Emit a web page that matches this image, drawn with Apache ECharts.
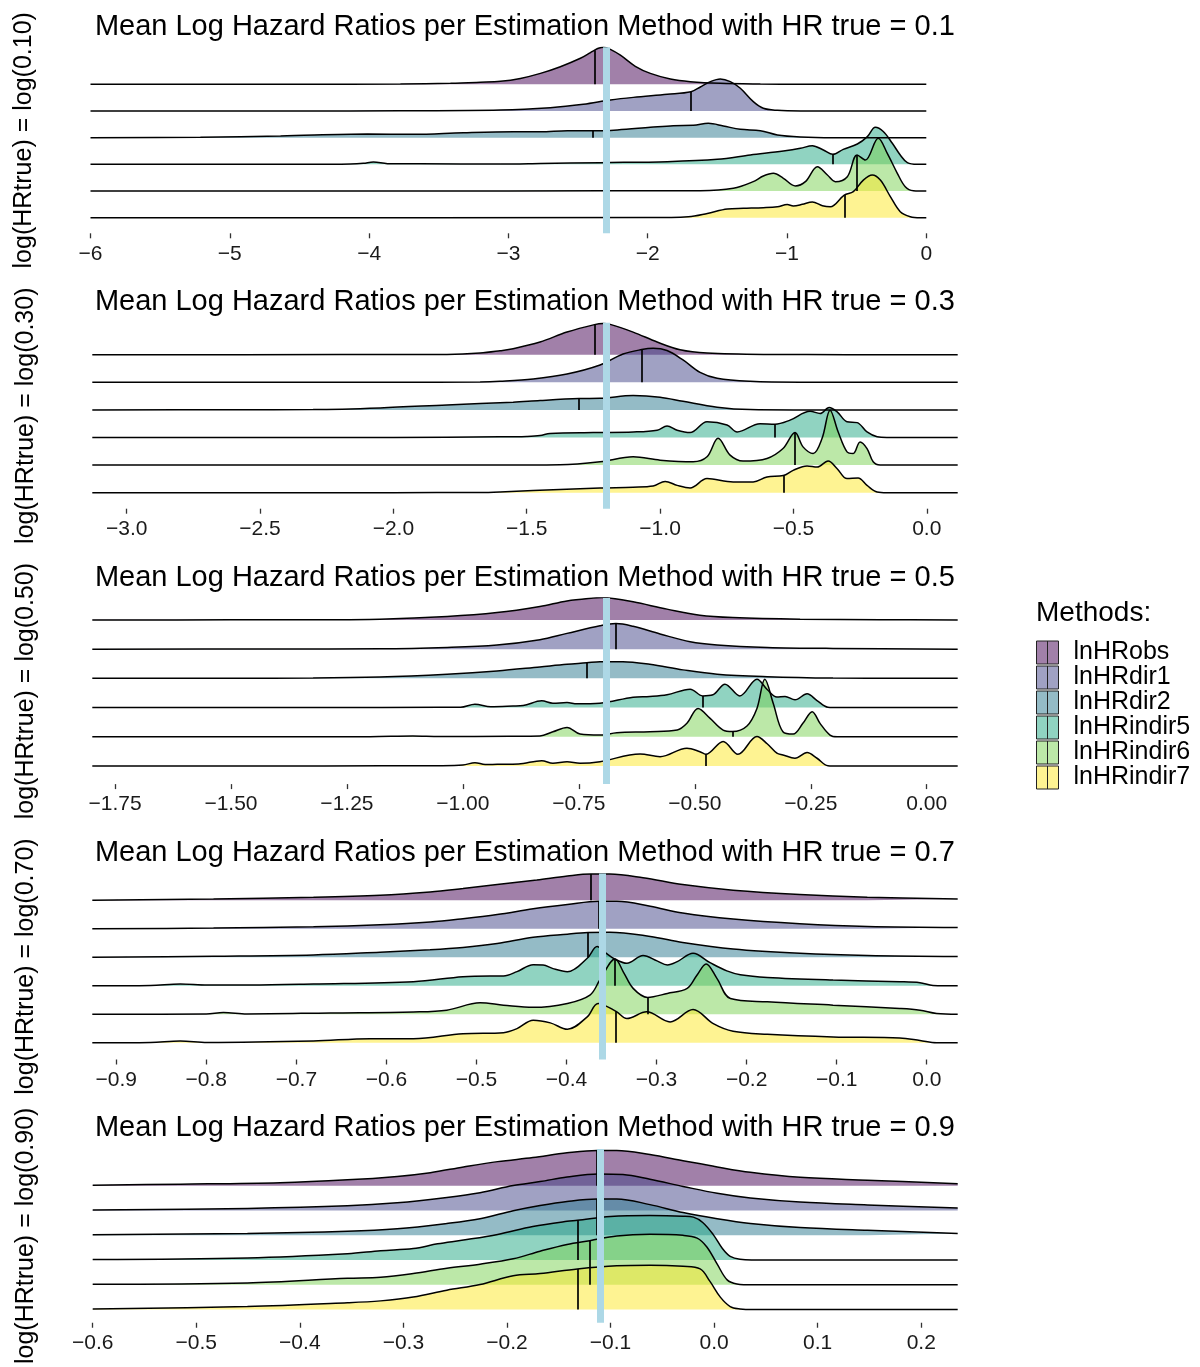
<!DOCTYPE html>
<html>
<head>
<meta charset="utf-8">
<title>Mean Log Hazard Ratios per Estimation Method</title>
<script src="https://cdn.jsdelivr.net/npm/echarts@6/dist/echarts.min.js"></script>
<style>
  html, body { margin: 0; padding: 0; background: #ffffff; }
  #chart { width: 1200px; height: 1367px; }
</style>
</head>
<body>
<div id="chart"></div>
<script>
// Estimation methods, in ridge order from top to bottom
const METHODS = ['lnHRobs', 'lnHRdir1', 'lnHRdir2', 'lnHRindir5', 'lnHRindir6', 'lnHRindir7'];
const FILLS = ['#440154', '#414487', '#2A788E', '#22A884', '#7AD151', '#FDE725'];
const HR_TRUE = [0.1, 0.3, 0.5, 0.7, 0.9];
const Y_LABELS = ['log(HRtrue) = log(0.10)', 'log(HRtrue) = log(0.30)', 'log(HRtrue) = log(0.50)',
                  'log(HRtrue) = log(0.70)', 'log(HRtrue) = log(0.90)'];

// x-axis extents and tick values per scenario
const X_RANGE_01 = [-6, 0];
const X_RANGE_03 = [-3.129, 0.116];
const X_RANGE_05 = [-1.799, 0.0668];
const X_RANGE_07 = [-0.9266, 0.0344];
const X_RANGE_09 = [-0.6, 0.2352];
const TICKS_01 = [-6, -5, -4, -3, -2, -1, 0];
const TICKS_03 = [-3.0, -2.5, -2.0, -1.5, -1.0, -0.5, 0.0];
const TICKS_05 = [-1.75, -1.5, -1.25, -1.0, -0.75, -0.5, -0.25, 0.0];
const TICKS_07 = [-0.9, -0.8, -0.7, -0.6, -0.5, -0.4, -0.3, -0.2, -0.1, 0.0];
const TICKS_09 = [-0.6, -0.5, -0.4, -0.3, -0.2, -0.1, 0.0, 0.1, 0.2];

// mean log hazard ratio of each method (same order as METHODS)
const MEANS_01 = [-2.381, -1.689, -2.392, -0.671, -0.497, -0.589];
const MEANS_03 = [-1.246, -1.069, -1.304, -0.569, -0.494, -0.538];
const MEANS_05 = [-0.719, -0.670, -0.733, -0.483, -0.419, -0.4765];
const MEANS_07 = [-0.373, -0.364, -0.376, -0.346, -0.310, -0.345];
const MEANS_09 = [-0.113, -0.112, -0.113, -0.132, -0.120, -0.132];

// scaled densities [logHR, height] (height in units of ridge spacing)
// HR true = 0.1
const d01_obs = [[-6,0],[-4.5,0.003],[-3.775,0.011],[-3.416,0.037],[-3.201,0.075],[-3.057,0.11],[-2.914,0.22],[-2.770,0.41],[-2.627,0.66],[-2.483,0.975],[-2.411,1.19],[-2.381,1.28],[-2.354,1.35],[-2.318,1.39],[-2.268,1.31],[-2.196,1.09],[-2.089,0.675],[-1.981,0.41],[-1.837,0.2],[-1.694,0.1],[-1.479,0.037],[-1.191,0.011],[-0.904,0.002],[0,0]];
const d01_dir1 = [[-6,0],[-4.49,0.002],[-3.775,0.008],[-3.057,0.0375],[-2.699,0.124],[-2.462,0.25],[-2.268,0.41],[-2.103,0.51],[-1.859,0.626],[-1.689,0.724],[-1.622,0.9],[-1.550,1.1],[-1.479,1.2],[-1.407,1.1],[-1.335,0.85],[-1.242,0.35],[-1.170,0.1],[-1.069,0.026],[-0.904,0.003],[0,0]];
const d01_dir2 = [[-6,0],[-5.211,0.02],[-4.636,0.064],[-4.012,0.139],[-3.682,0.124],[-3.323,0.188],[-2.964,0.225],[-2.770,0.225],[-2.577,0.263],[-2.392,0.255],[-2.218,0.289],[-1.981,0.386],[-1.816,0.45],[-1.672,0.461],[-1.565,0.536],[-1.457,0.439],[-1.335,0.311],[-1.191,0.263],[-1.069,0.1],[-0.904,0.026],[-0.668,0],[0,0]];
const d01_ind5 = [[-6,0],[-4.3,0.003],[-4.134,0.01],[-4.041,0.0375],[-3.969,0.086],[-3.868,0.026],[-3.632,0.019],[-3.057,0.011],[-2.77,0.03],[-2.340,0.064],[-1.859,0.1],[-1.500,0.188],[-1.263,0.35],[-1.026,0.5],[-0.904,0.6],[-0.818,0.7],[-0.739,0.536],[-0.671,0.375],[-0.596,0.563],[-0.495,0.761],[-0.423,1.04],[-0.366,1.39],[-0.309,1.23],[-0.244,0.79],[-0.187,0.35],[-0.136,0.064],[-0.065,0],[0,0]];
const d01_ind6 = [[-6,0],[-3,0.005],[-1.622,0.01],[-1.385,0.1],[-1.242,0.35],[-1.170,0.563],[-1.098,0.664],[-1.026,0.476],[-0.940,0.188],[-0.868,0.35],[-0.782,0.911],[-0.710,0.6],[-0.653,0.35],[-0.567,0.536],[-0.497,1.35],[-0.438,1.16],[-0.345,1.98],[-0.280,1.41],[-0.208,0.664],[-0.151,0.161],[-0.093,0.011],[0,0]];
const d01_ind7 = [[-6,0],[-2,0.003],[-1.708,0.0375],[-1.572,0.161],[-1.428,0.326],[-1.313,0.35],[-1.170,0.375],[-1.069,0.41],[-0.998,0.49],[-0.955,0.44],[-0.890,0.5],[-0.818,0.59],[-0.746,0.45],[-0.689,0.41],[-0.589,0.85],[-0.524,0.975],[-0.452,1.41],[-0.388,1.6],[-0.330,1.41],[-0.258,0.79],[-0.187,0.225],[-0.115,0.0375],[-0.043,0],[0,0]];

// HR true = 0.3
const d03_obs = [[-3.129,0],[-2.2,0.005],[-1.799,0.012],[-1.675,0.06],[-1.6,0.145],[-1.551,0.217],[-1.45,0.46],[-1.349,0.82],[-1.246,1.09],[-1.215,1.13],[-1.187,1.1],[-1.101,0.82],[-1.011,0.46],[-0.925,0.18],[-0.824,0.06],[-0.599,0.01],[-0.3,0.002],[0.116,0]];
const d03_dir1 = [[-3.129,0],[-2.0,0.002],[-1.675,0.012],[-1.6,0.036],[-1.476,0.12],[-1.349,0.3],[-1.225,0.627],[-1.139,1.025],[-1.069,1.185],[-1.026,1.23],[-0.974,1.15],[-0.914,0.81],[-0.85,0.36],[-0.786,0.145],[-0.6625,0.036],[-0.475,0.003],[0.116,0]];
const d03_dir2 = [[-3.129,0],[-2.6,0.004],[-2.301,0.012],[-2.05,0.072],[-1.799,0.18],[-1.551,0.28],[-1.45,0.34],[-1.304,0.41],[-1.225,0.42],[-1.101,0.52],[-1.0,0.46],[-0.914,0.31],[-0.786,0.1],[-0.6625,0.012],[-0.5,0],[0.116,0]];
const d03_ind5 = [[-3.129,0],[-2.0,0.003],[-1.6,0.025],[-1.5,0.04],[-1.45,0.07],[-1.4125,0.145],[-1.251,0.18],[-1.101,0.2],[-1.011,0.265],[-0.974,0.42],[-0.936,0.265],[-0.8875,0.18],[-0.824,0.57],[-0.749,0.45],[-0.711,0.2],[-0.625,0.5],[-0.569,0.48],[-0.5125,0.63],[-0.4375,0.95],[-0.4,0.87],[-0.366,1.09],[-0.336,0.93],[-0.299,0.57],[-0.261,0.54],[-0.224,0.2],[-0.186,0.025],[-0.15,0],[0.116,0]];
const d03_ind6 = [[-3.129,0],[-1.5,0.003],[-1.375,0.01],[-1.225,0.12],[-1.101,0.3],[-1.0,0.18],[-0.876,0.12],[-0.824,0.3],[-0.7825,0.97],[-0.7375,0.36],[-0.689,0.145],[-0.599,0.24],[-0.539,0.6],[-0.494,1.18],[-0.464,0.66],[-0.426,0.42],[-0.3925,0.97],[-0.3625,1.99],[-0.3325,1.21],[-0.299,0.48],[-0.276,0.42],[-0.25,0.84],[-0.224,0.6],[-0.201,0.12],[-0.175,0],[0.116,0]];
const d03_ind7 = [[-3.129,0],[-2.0,0.002],[-1.675,0.005],[-1.6,0.025],[-1.476,0.083],[-1.225,0.17],[-1.101,0.2],[-1.026,0.24],[-0.981,0.41],[-0.936,0.265],[-0.8875,0.17],[-0.824,0.51],[-0.726,0.39],[-0.651,0.39],[-0.599,0.57],[-0.538,0.62],[-0.501,0.81],[-0.449,0.97],[-0.411,0.93],[-0.37,1.15],[-0.336,0.87],[-0.299,0.51],[-0.2575,0.53],[-0.224,0.265],[-0.186,0.025],[-0.15,0],[0.116,0]];

// HR true = 0.5
const d05_obs = [[-1.799,0],[-1.5,0.002],[-1.323,0.005],[-1.179,0.024],[-1.034,0.115],[-0.9265,0.25],[-0.834,0.46],[-0.7755,0.65],[-0.719,0.75],[-0.70,0.765],[-0.683,0.75],[-0.633,0.62],[-0.56,0.37],[-0.489,0.16],[-0.418,0.08],[-0.273,0.024],[-0.1,0.005],[0.0668,0]];
const d05_dir1 = [[-1.799,0],[-1.4,0.002],[-1.179,0.01],[-1.034,0.058],[-0.9265,0.14],[-0.834,0.32],[-0.7755,0.54],[-0.7045,0.8],[-0.670,0.875],[-0.633,0.78],[-0.575,0.52],[-0.51,0.25],[-0.452,0.14],[-0.344,0.058],[-0.202,0.024],[0.0668,0]];
const d05_dir2 = [[-1.799,0],[-1.5,0.003],[-1.323,0.01],[-1.179,0.045],[-1.034,0.14],[-0.9265,0.25],[-0.834,0.39],[-0.7755,0.48],[-0.733,0.53],[-0.7045,0.57],[-0.655,0.57],[-0.597,0.48],[-0.5255,0.29],[-0.452,0.14],[-0.344,0.058],[-0.202,0.01],[-0.05,0],[0.0668,0]];
const d05_ind5 = [[-1.799,0],[-1.3,0.002],[-1.05,0.008],[-1.005,0.01],[-0.974,0.114],[-0.94,0.03],[-0.892,0.052],[-0.870,0.069],[-0.83,0.23],[-0.806,0.148],[-0.7755,0.172],[-0.754,0.127],[-0.7045,0.148],[-0.633,0.354],[-0.597,0.378],[-0.56,0.437],[-0.51,0.63],[-0.483,0.4],[-0.461,0.437],[-0.435,0.8],[-0.403,0.4],[-0.366,0.97],[-0.344,0.62],[-0.323,0.36],[-0.3055,0.38],[-0.284,0.265],[-0.258,0.47],[-0.2365,0.24],[-0.213,0.01],[-0.19,0],[0.0668,0]];
const d05_ind6 = [[-1.799,0],[-1.2,0.005],[-1.108,0.024],[-1.05,0.008],[-0.9,0.02],[-0.834,0.03],[-0.806,0.17],[-0.7755,0.32],[-0.7475,0.093],[-0.7045,0.058],[-0.668,0.138],[-0.597,0.172],[-0.538,0.23],[-0.517,0.46],[-0.493,0.97],[-0.467,0.63],[-0.439,0.23],[-0.419,0.18],[-0.3875,0.37],[-0.366,0.97],[-0.349,1.97],[-0.331,1.15],[-0.31,0.172],[-0.288,0.093],[-0.267,0.46],[-0.247,0.86],[-0.23,0.46],[-0.2085,0.058],[-0.193,0],[0.0668,0]];
const d05_ind7 = [[-1.799,0],[-1.3,0.003],[-1.05,0.01],[-1.0,0.03],[-0.974,0.114],[-0.952,0.05],[-0.926,0.058],[-0.88,0.069],[-0.83,0.18],[-0.806,0.093],[-0.7755,0.148],[-0.7475,0.093],[-0.7045,0.148],[-0.618,0.41],[-0.575,0.32],[-0.517,0.61],[-0.489,0.49],[-0.4765,0.4],[-0.439,0.84],[-0.407,0.4],[-0.366,1.01],[-0.344,0.76],[-0.323,0.437],[-0.31,0.378],[-0.284,0.265],[-0.258,0.46],[-0.2365,0.265],[-0.213,0.01],[-0.19,0],[0.0668,0]];

// HR true = 0.7
const d07_obs = [[-0.9266,0],[-0.792,0.046],[-0.681,0.106],[-0.607,0.177],[-0.5515,0.293],[-0.515,0.413],[-0.477,0.55],[-0.433,0.71],[-0.399,0.85],[-0.373,0.92],[-0.352,0.92],[-0.315,0.79],[-0.271,0.55],[-0.215,0.353],[-0.141,0.2],[-0.066,0.106],[0.0344,0.046]];
const d07_dir1 = [[-0.9266,0],[-0.792,0.024],[-0.681,0.07],[-0.607,0.14],[-0.5515,0.236],[-0.515,0.353],[-0.477,0.5],[-0.437,0.7],[-0.399,0.85],[-0.364,0.965],[-0.344,0.965],[-0.307,0.79],[-0.271,0.55],[-0.215,0.34],[-0.141,0.177],[-0.066,0.08],[0.0344,0.046]];
const d07_dir2 = [[-0.9266,0],[-0.792,0.035],[-0.681,0.08],[-0.607,0.177],[-0.5515,0.26],[-0.515,0.34],[-0.477,0.48],[-0.437,0.7],[-0.399,0.81],[-0.376,0.865],[-0.352,0.88],[-0.307,0.73],[-0.271,0.52],[-0.215,0.293],[-0.141,0.14],[-0.066,0.06],[0.0344,0.025]];
const d07_ind5 = [[-0.9266,0],[-0.862,0.011],[-0.829,0.06],[-0.799,0.025],[-0.751,0.025],[-0.681,0.06],[-0.570,0.141],[-0.515,0.318],[-0.485,0.342],[-0.470,0.342],[-0.455,0.494],[-0.437,0.74],[-0.426,0.73],[-0.415,0.6],[-0.399,0.494],[-0.377,0.964],[-0.366,1.377],[-0.357,1.165],[-0.346,0.93],[-0.333,0.787],[-0.315,1.06],[-0.2995,0.872],[-0.288,0.73],[-0.277,0.847],[-0.2595,1.14],[-0.2406,0.81],[-0.222,0.52],[-0.207,0.388],[-0.177,0.293],[-0.104,0.2],[-0.030,0.141],[-0.0075,0.106],[0.007,0.011],[0.0344,0]];
const d07_ind6 = [[-0.9266,0],[-0.8,0.005],[-0.781,0.06],[-0.755,0.01],[-0.662,0.046],[-0.570,0.08],[-0.533,0.141],[-0.496,0.4],[-0.47,0.318],[-0.437,0.24],[-0.399,0.378],[-0.374,0.67],[-0.363,1.2],[-0.346,1.94],[-0.337,1.49],[-0.326,0.907],[-0.310,0.59],[-0.288,0.73],[-0.266,0.907],[-0.255,1.377],[-0.245,1.765],[-0.233,1.26],[-0.218,0.554],[-0.177,0.434],[-0.104,0.318],[-0.030,0.2],[-0.0075,0.141],[0.011,0.025],[0.0344,0]];
const d07_ind7 = [[-0.9266,0],[-0.862,0.011],[-0.829,0.06],[-0.799,0.01],[-0.681,0.06],[-0.618,0.141],[-0.570,0.141],[-0.515,0.318],[-0.470,0.353],[-0.455,0.494],[-0.437,0.787],[-0.418,0.695],[-0.399,0.47],[-0.377,0.907],[-0.365,1.377],[-0.345,1.1],[-0.333,0.847],[-0.311,1.083],[-0.285,0.73],[-0.2595,1.165],[-0.237,0.67],[-0.215,0.4],[-0.177,0.293],[-0.104,0.2],[-0.030,0.166],[-0.0075,0.08],[0.011,0],[0.0344,0]];

// HR true = 0.9
const d09_obs = [[-0.6,0.027],[-0.515,0.065],[-0.419,0.125],[-0.354,0.24],[-0.306,0.38],[-0.274,0.53],[-0.242,0.76],[-0.209,0.976],[-0.175,1.14],[-0.142,1.33],[-0.113,1.43],[-0.094,1.43],[-0.062,1.264],[-0.030,1.014],[0.003,0.76],[0.035,0.543],[0.083,0.342],[0.148,0.228],[0.2352,0.087]];
const d09_dir1 = [[-0.6,0.027],[-0.4506,0.087],[-0.354,0.19],[-0.306,0.315],[-0.258,0.53],[-0.226,0.72],[-0.194,1.01],[-0.168,1.17],[-0.142,1.355],[-0.112,1.48],[-0.088,1.455],[-0.062,1.264],[-0.030,0.976],[0.003,0.695],[0.035,0.505],[0.083,0.342],[0.148,0.228],[0.2352,0.1]];
const d09_dir2 = [[-0.6,0.027],[-0.4506,0.076],[-0.354,0.163],[-0.306,0.266],[-0.258,0.48],[-0.226,0.67],[-0.194,0.99],[-0.168,1.2],[-0.142,1.367],[-0.113,1.47],[-0.094,1.47],[-0.062,1.24],[-0.030,0.92],[0.003,0.67],[0.035,0.48],[0.083,0.315],[0.148,0.2],[0.2352,0.076]];
const d09_ind5 = [[-0.6,0.027],[-0.4506,0.087],[-0.354,0.254],[-0.322,0.38],[-0.2905,0.467],[-0.267,0.657],[-0.242,0.81],[-0.209,1.037],[-0.175,1.356],[-0.142,1.568],[-0.132,1.606],[-0.100,1.758],[-0.062,1.796],[-0.030,1.773],[-0.020,1.735],[-0.011,1.52],[-0.001,1.04],[0.008,0.467],[0.0155,0.152],[0.025,0.038],[0.051,0],[0.2352,0]];
const d09_ind6 = [[-0.6,0.027],[-0.4506,0.076],[-0.354,0.266],[-0.322,0.304],[-0.2905,0.456],[-0.258,0.672],[-0.226,0.835],[-0.194,1.05],[-0.168,1.36],[-0.142,1.633],[-0.120,1.785],[-0.094,1.974],[-0.062,2.04],[-0.030,2.0],[-0.0164,1.887],[-0.007,1.53],[0.003,0.835],[0.0126,0.2],[0.022,0.038],[0.0376,0],[0.2352,0]];
const d09_ind7 = [[-0.6,0.027],[-0.4506,0.125],[-0.354,0.277],[-0.322,0.353],[-0.2905,0.505],[-0.258,0.786],[-0.226,1.014],[-0.194,1.367],[-0.168,1.454],[-0.132,1.644],[-0.094,1.773],[-0.062,1.796],[-0.030,1.747],[-0.0135,1.644],[-0.004,1.14],[0.006,0.505],[0.0155,0.125],[0.025,0.027],[0.0376,0],[0.2352,0]];

// ---------------------------------------------------------------------------
const FONT = '"Liberation Sans", Arial, Helvetica, sans-serif';

const panels = [
  { xr: X_RANGE_01, ticks: TICKS_01, dec: 0, means: MEANS_01, dens: [d01_obs, d01_dir1, d01_dir2, d01_ind5, d01_ind6, d01_ind7], left: 90.5, right: 926.3, yr: [-0.585, 6.387] },
  { xr: X_RANGE_03, ticks: TICKS_03, dec: 1, means: MEANS_03, dens: [d03_obs, d03_dir1, d03_dir2, d03_ind5, d03_ind6, d03_ind7], left: 92.3, right: 957.7, yr: [-0.58, 6.16] },
  { xr: X_RANGE_05, ticks: TICKS_05, dec: 2, means: MEANS_05, dens: [d05_obs, d05_dir1, d05_dir2, d05_ind5, d05_ind6, d05_ind7], left: 92.3, right: 957.7, yr: [-0.62, 5.747] },
  { xr: X_RANGE_07, ticks: TICKS_07, dec: 1, means: MEANS_07, dens: [d07_obs, d07_dir1, d07_dir2, d07_ind5, d07_ind6, d07_ind7], left: 92.3, right: 957.7, yr: [-0.59, 5.94] },
  { xr: X_RANGE_09, ticks: TICKS_09, dec: 1, means: MEANS_09, dens: [d09_obs, d09_dir1, d09_dir2, d09_ind5, d09_ind6, d09_ind7], left: 92.7, right: 957.7, yr: [-0.53, 6.49] }
];

const PANEL_TOP = 47.3, PANEL_STEP = 275.4, PANEL_H = 186;

// linear lookup of a ridge height at x (used for the mean segments)
function heightAt(pts, x) {
  for (let i = 0; i < pts.length - 1; i++) {
    const a = pts[i], b = pts[i + 1];
    if (x >= a[0] && x <= b[0]) {
      const t = b[0] === a[0] ? 0 : (x - a[0]) / (b[0] - a[0]);
      return a[1] + t * (b[1] - a[1]);
    }
  }
  return 0;
}

function tickFormatter(dec) {
  return function (v) {
    const s = Math.abs(v).toFixed(dec);
    return (v < 0 && Number(s) !== 0) ? '\u2212' + s : s;
  };
}

const grids = [], xAxes = [], yAxes = [], series = [], titles = [];

panels.forEach((P, p) => {
  const top = PANEL_TOP + PANEL_STEP * p;
  grids.push({ left: P.left, width: P.right - P.left, top: top, height: PANEL_H, containLabel: false });

  xAxes.push({
    type: 'value', gridIndex: p, min: P.xr[0], max: P.xr[1],
    position: 'bottom',
    axisLine: { show: false, onZero: false },
    splitLine: { show: false },
    axisTick: { show: true, customValues: P.ticks, length: 5, lineStyle: { color: '#333333', width: 1.3 } },
    axisLabel: { show: true, customValues: P.ticks, formatter: tickFormatter(P.dec), margin: 10,
                 fontSize: 21, color: '#1a1a1a', fontFamily: FONT }
  });

  titles.push({
    text: 'Mean Log Hazard Ratios per Estimation Method with HR true = ' + HR_TRUE[p],
    left: (92 + 957.7) / 2, textAlign: 'center', top: top - 35, padding: 0,
    textStyle: { fontSize: 29, fontWeight: 'normal', color: '#000000', fontFamily: FONT }
  });

  METHODS.forEach((name, m) => {
    const base = 5 - m;            // ridge baseline position in the panel
    const yIndex = yAxes.length;
    yAxes.push({
      type: 'value', gridIndex: p, min: P.yr[0] - base, max: P.yr[1] - base,
      show: m === 0,
      name: m === 0 ? Y_LABELS[p] : '',
      nameLocation: 'middle', nameRotate: 90, nameGap: 54,
      nameTextStyle: { fontSize: 25, color: '#000000', fontFamily: FONT },
      axisLine: { show: false, onZero: false }, axisTick: { show: false }, axisLabel: { show: false }, splitLine: { show: false }
    });

    const pts = P.dens[m];
    const mean = P.means[m];
    const markData = [[{ coord: [mean, 0] }, { coord: [mean, heightAt(pts, mean)] }]];
    if (m === METHODS.length - 1) {
      markData.push({ xAxis: Math.log(HR_TRUE[p]),
                      lineStyle: { color: '#ADD8E6', width: 7, type: 'solid' } });
    }

    series.push({
      type: 'line', name: name,
      xAxisIndex: p, yAxisIndex: yIndex,
      data: pts,
      smooth: 0.35,
      showSymbol: false, symbol: 'none',
      silent: true,
      lineStyle: { color: '#000000', width: 1.5 },
      itemStyle: { color: FILLS[m] },
      areaStyle: { color: FILLS[m], opacity: 0.5 },
      markLine: {
        silent: true, symbol: ['none', 'none'], animation: false,
        label: { show: false },
        lineStyle: { color: '#000000', width: 1.7, type: 'solid' },
        data: markData
      }
    });
  });
});

titles.push({
  text: 'Methods:', left: 1036, top: 599, padding: 0,
  textStyle: { fontSize: 28, fontWeight: 'normal', color: '#000000', fontFamily: FONT }
});

const chart = echarts.init(document.getElementById('chart'), null, { renderer: 'canvas' });
chart.setOption({
  backgroundColor: '#ffffff',
  animation: false,
  title: titles,
  grid: grids,
  xAxis: xAxes,
  yAxis: yAxes,
  legend: {
    orient: 'vertical', left: 1036, top: 640, padding: 0,
    itemWidth: 22, itemHeight: 23, itemGap: 0,
    selectedMode: false,
    icon: 'path://M0,0L22,0L22,23L0,23Z M11,0L11,23',
    itemStyle: { borderColor: '#222222', borderWidth: 1 },
    textStyle: { fontSize: 25, color: '#000000', fontFamily: FONT, lineHeight: 23, padding: [0, 0, 0, 10] },
    data: METHODS.map((n, i) => ({
      name: n,
      itemStyle: { color: echarts.color.modifyAlpha(FILLS[i], 0.5), borderColor: '#222222', borderWidth: 1 }
    }))
  },
  series: series
});
</script>
</body>
</html>
